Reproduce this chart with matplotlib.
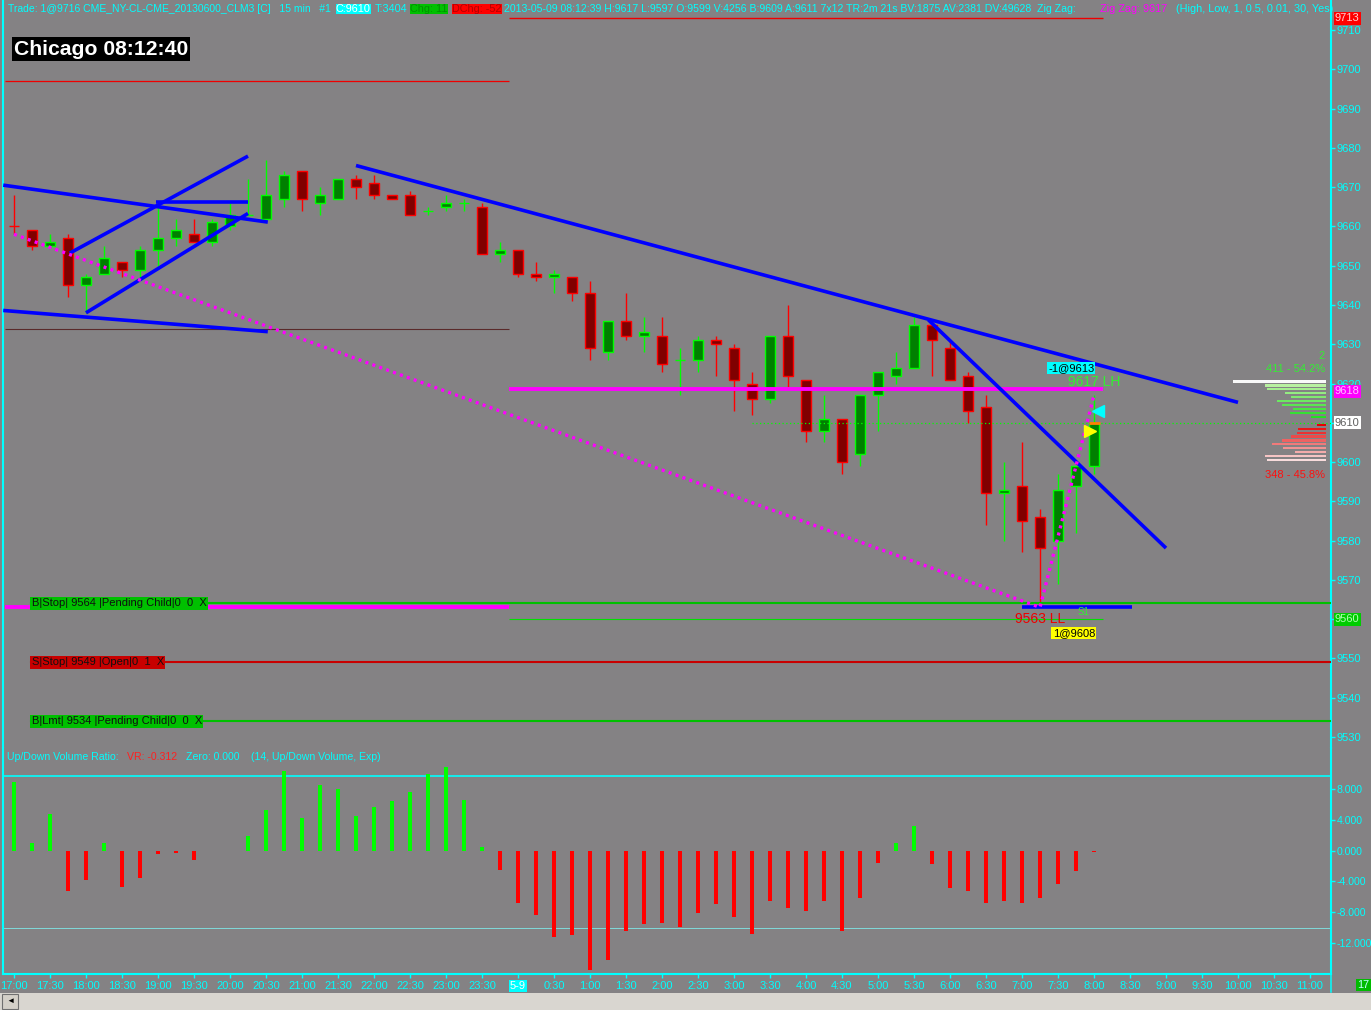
import numpy as np
import matplotlib.pyplot as plt
import matplotlib.colors as mc
from matplotlib.patches import Rectangle
from matplotlib.transforms import blended_transform_factory

plt.rcParams['font.family'] = ['Liberation Sans', 'DejaVu Sans']

BG = "#848284"
CYAN = "#00ffff"
UP_FILL, UP_EDGE = "#008000", "#00ff00"
DN_FILL, DN_EDGE = "#800000", "#ff0000"

# CL 06-13, 15 min bars from 17:00 (5/8) to 08:00 (5/9)
opens = [9660, 9659, 9655, 9657, 9645, 9648, 9651, 9649, 9654, 9657,
         9658, 9656, 9660, 9663, 9662, 9667, 9674, 9666, 9667, 9672,
         9671, 9668, 9668, 9664, 9665, 9666, 9665, 9653, 9654, 9648,
         9647, 9647, 9643, 9628, 9636, 9632, 9632, 9626, 9626, 9631,
         9629, 9620, 9616, 9632, 9621, 9608, 9611, 9602, 9617, 9622,
         9624, 9635, 9629, 9622, 9614, 9592, 9594, 9586, 9580, 9594, 9599]
highs = [9668, 9659, 9658, 9658, 9648, 9655, 9651, 9655, 9665, 9662,
         9662, 9662, 9666, 9672, 9677, 9674, 9674, 9670, 9672, 9673,
         9673, 9668, 9669, 9665, 9668, 9667, 9666, 9656, 9654, 9651,
         9649, 9647, 9646, 9636, 9643, 9637, 9637, 9629, 9632, 9632,
         9630, 9623, 9632, 9640, 9621, 9617, 9611, 9617, 9623, 9628,
         9637, 9636, 9631, 9623, 9617, 9600, 9605, 9588, 9597, 9599, 9617]
lows = [9658, 9654, 9655, 9642, 9638, 9648, 9647, 9647, 9650, 9655,
        9656, 9655, 9659, 9663, 9662, 9665, 9664, 9663, 9667, 9667,
        9667, 9667, 9663, 9663, 9664, 9664, 9653, 9651, 9647, 9646,
        9643, 9641, 9626, 9626, 9631, 9628, 9623, 9617, 9623, 9622,
        9613, 9612, 9615, 9619, 9605, 9605, 9597, 9599, 9608, 9620,
        9624, 9622, 9621, 9610, 9584, 9580, 9577, 9563, 9569, 9582, 9597]
closes = [9660, 9655, 9656, 9645, 9647, 9652, 9649, 9654, 9657, 9659,
          9656, 9661, 9663, 9663, 9668, 9673, 9667, 9668, 9672, 9670,
          9668, 9667, 9663, 9664, 9666, 9666, 9653, 9654, 9648, 9647,
          9648, 9643, 9629, 9636, 9632, 9633, 9625, 9626, 9631, 9630,
          9621, 9616, 9632, 9622, 9608, 9611, 9600, 9617, 9623, 9624,
          9635, 9631, 9621, 9613, 9592, 9593, 9585, 9578, 9593, 9599, 9610]

# Up/Down Volume Ratio (14, Exp)
vol_ratio = [8.9, 1.0, 4.8, -5.3, -3.8, 1.0, -4.7, -3.5, -0.5, -0.35,
             -1.2, 0.0, -0.1, 1.9, 5.3, 10.3, 4.2, 8.5, 8.0, 4.5,
             5.7, 6.5, 7.6, 10.0, 10.9, 6.6, 0.4, -2.5, -6.8, -8.4,
             -11.2, -11.0, -15.5, -14.2, -10.5, -9.6, -9.4, -9.9, -8.05, -7.0,
             -8.6, -10.9, -6.5, -7.5, -7.8, -6.6, -10.4, -6.1, -1.6, 1.0,
             3.2, -1.7, -4.8, -5.3, -6.8, -6.6, -6.8, -6.1, -4.3, -2.7, -0.2]

time_labels = ["17:00", "17:30", "18:00", "18:30", "19:00", "19:30", "20:00",
               "20:30", "21:00", "21:30", "22:00", "22:30", "23:00", "23:30",
               "5-9", "0:30", "1:00", "1:30", "2:00", "2:30", "3:00", "3:30",
               "4:00", "4:30", "5:00", "5:30", "6:00", "6:30", "7:00", "7:30",
               "8:00", "8:30", "9:00", "9:30", "10:00", "10:30", "11:00"]

price_ticks = list(range(9530, 9711, 10))
vr_ticks = [8, 4, 0, -4, -8, -12]
vr_tick_labels = ["8.000", "4.000", "0.000", "-4.000", "-8.000", "-12.000"]

# zig zag swing points (bar, price)
zigzag_bars = [0, 57, 60]
zigzag_prices = [9658, 9563, 9617]

# hand drawn trend lines (bar0, price0, bar1, price1)
trend_lines = [(-0.6, 9670.5, 14.1, 9661.1),
               (-0.6, 9638.6, 14.1, 9633.2),
               (3.1, 9653.2, 13.0, 9677.9),
               (4.0, 9638.0, 13.0, 9663.3),
               (7.9, 9666.1, 13.0, 9666.1),
               (19.0, 9675.5, 68.0, 9615.2),
               (50.8, 9636.2, 64.0, 9578.1),
               (56.0, 9563.0, 62.1, 9563.0)]

# session boundary (bar units) and levels
prev_start, sess_start, sess_end = -0.5, 27.5, 60.5
prev_high, prev_mid, prev_zz = 9697, 9634, 9563
sess_high, sess_zz, sess_pivot = 9713, 9618.5, 9560
last_price = 9610

orders = [("B|Stop| 9564 |Pending Child|0  0  X", 9564),
          ("S|Stop| 9549 |Open|0  1  X", 9549),
          ("B|Lmt| 9534 |Pending Child|0  0  X", 9534)]

# bid/ask volume profile of the last bar
prof_up_prices = [9620, 9619, 9618, 9617, 9616, 9615, 9614, 9613, 9612, 9611]
prof_up_vol = [82, 54, 52, 36, 31, 43, 39, 29, 32, 13]
prof_dn_prices = [9609, 9608, 9607, 9606, 9605, 9604, 9603, 9602, 9601, 9600]
prof_dn_vol = [8, 25, 26, 31, 39, 48, 38, 27, 54, 52]

W, H = 1371, 1010
fig = plt.figure(figsize=(W / 100, H / 100), dpi=100, facecolor=BG)


def box(x0, y0, x1, y1):
    return [x0 / W, 1 - y1 / H, (x1 - x0) / W, (y1 - y0) / H]


ax = fig.add_axes(box(3, 0, 1331, 748), facecolor=BG)
axv = fig.add_axes(box(3, 748, 1331, 974), facecolor=BG)
for a in (ax, axv):
    a.set_xlim(-11 / 18, 1317 / 18)
    for s in a.spines.values():
        s.set_color(CYAN)
        s.set_linewidth(1.5)
ax.spines['top'].set_visible(False)
ax.spines['bottom'].set_visible(False)
axv.spines['top'].set_visible(False)
ax.set_ylim(9527.2, 9717.64)
axv.set_ylim(-16.03, 13.32)

# candles
for i in range(len(opens)):
    o, h, l, c = opens[i], highs[i], lows[i], closes[i]
    up = c > o if c != o else (i > 0 and c >= closes[i - 1])
    edge = UP_EDGE if up else DN_EDGE
    fill = UP_FILL if up else DN_FILL
    ax.vlines(i, l, h, color=edge, lw=1.0, zorder=3)
    if c == o:
        ax.hlines(o, i - 0.29, i + 0.29, color=edge, lw=1.0, zorder=4)
    else:
        ax.bar(i, abs(c - o), bottom=min(o, c), width=0.54, color=fill,
               edgecolor=edge, lw=1.0, zorder=4)

# levels
ax.hlines(prev_high, prev_start, sess_start, color="#ee0000", lw=0.9, zorder=2)
ax.hlines(prev_mid, prev_start, sess_start, color="#5a2a2a", lw=0.8, zorder=2)
ax.hlines(prev_zz, prev_start, sess_start, color="#ff00ff", lw=2.8, zorder=5)
ax.hlines(sess_high, sess_start, sess_end, color="#ee0000", lw=1.0, zorder=2)
ax.hlines(sess_zz, sess_start, sess_end, color="#ff00ff", lw=2.8, zorder=5)
ax.hlines(sess_pivot, sess_start, sess_end, color="#00e000", lw=0.8, zorder=2)
ax.hlines(last_price, 41, 73.2, color="#00ff00", lw=0.9, linestyles=(0, (1, 2)), zorder=5)

for b0, p0, b1, p1 in trend_lines:
    ax.plot([b0, b1], [p0, p1], color="#0000ff", lw=2.6, zorder=6, solid_capstyle='butt')

ax.plot(zigzag_bars, zigzag_prices, color="#ff00ff", lw=2.4,
        linestyle=(0, (0.9, 1.3)), zorder=6)

# working orders
tr = blended_transform_factory(ax.transAxes, ax.transData)
for label, price in orders:
    col = "#00c000" if label.startswith("B") else "#c80000"
    ax.plot([28 / 1328, 1.0], [price, price], color=col, lw=1.5, transform=tr, zorder=5)
    ax.text(28.5 / 1328, price, label, transform=tr, fontsize=8, color="#101010",
            va='center', ha='left', zorder=8,
            bbox=dict(facecolor=col, edgecolor='none', pad=1.2))

# fills and markers on the last bar
ax.plot(60.2, 9613, marker='<', color=CYAN, ms=9, zorder=7)
ax.plot(59.8, 9608, marker='>', color='yellow', ms=9, zorder=7)
ax.hlines(closes[-1], 59.7, 60.35, color="#ff8000", lw=2, zorder=7)

ax.text(57.45, 9624.0, "-1@9613", fontsize=8, color='black', va='center', zorder=8,
        bbox=dict(facecolor=CYAN, edgecolor='none', pad=0.8))
ax.text(58.55, 9620.4, "9617 LH", fontsize=10, color="#33ee33", va='center', zorder=8)
ax.text(55.6, 9560.0, "9563 LL", fontsize=10, color="#ee0000", va='center', zorder=8)
ax.text(59.1, 9561.8, "S1", fontsize=7, color="#33ee33", va='center', zorder=8)
ax.text(57.7, 9556.4, "1@9608", fontsize=8, color='black', va='center', zorder=8,
        bbox=dict(facecolor='yellow', edgecolor='none', pad=0.8))
ax.text(72.83, 9627.0, "2", fontsize=8, color="#33ee33", ha='right', va='center')
ax.text(72.83, 9623.7, "411 - 54.2%", fontsize=8, color="#33ee33", ha='right', va='center')
ax.text(72.83, 9596.7, "348 - 45.8%", fontsize=8, color="#ff1010", ha='right', va='center')

# price axis
ax.tick_params(axis='x', bottom=False, labelbottom=False)
ax.yaxis.tick_right()
ax.set_yticks(price_ticks)
ax.tick_params(axis='y', colors=CYAN, labelsize=8, length=3, width=1, pad=1)
for price, fc, tc in [(9713, "#ff0000", "#ffd0d0"), (9618, "#ff00ff", "#ffc0ff"),
                      (9610, "white", "#606060"), (9560, "#00cc00", "#b0ffb0")]:
    ax.text(1.003, price, str(price), transform=tr, fontsize=8, color=tc,
            va='center', ha='left', clip_on=False, zorder=9,
            bbox=dict(facecolor=fc, edgecolor='none', pad=1))

# volume profile
axp = fig.add_axes(box(1196, 0, 1326, 748))
axp.set_ylim(ax.get_ylim())
axp.set_xlim(130 * 0.885, 0)
axp.axis('off')
white = np.array(mc.to_rgb("#f8f8f8"))
pale_green = np.array(mc.to_rgb("#b8f0a0"))
green = np.array(mc.to_rgb("#22e022"))
red = np.array(mc.to_rgb("#e80000"))
pale_red = np.array(mc.to_rgb("#f8dcdc"))
n = len(prof_up_prices)
up_cols = [tuple(white)] + [tuple(pale_green + (green - pale_green) * (j - 1) / (n - 2))
                            for j in range(1, n)]
dn_cols = [tuple(red + (pale_red - red) * j / (n - 1)) for j in range(n)]
axp.barh(np.array(prof_up_prices) + 0.5, prof_up_vol, height=0.55, color=up_cols)
axp.barh(np.array(prof_dn_prices) + 0.5, prof_dn_vol, height=0.55, color=dn_cols)

# volume ratio panel
axv.bar(range(len(vol_ratio)), vol_ratio, width=0.17,
        color=["#00ff00" if v > 0 else "#ff0000" for v in vol_ratio], zorder=3)
axv.axhline(9.7, color=CYAN, lw=1.2, zorder=2)
axv.axhline(-10, color="#7fe8e8", lw=0.6, zorder=2)
axv.yaxis.tick_right()
axv.set_yticks(vr_ticks)
axv.set_yticklabels(vr_tick_labels)
axv.tick_params(axis='y', colors=CYAN, labelsize=7.6, length=3, width=1, pad=1)
axv.set_xticks(range(0, 73, 2))
axv.set_xticklabels(time_labels)
axv.tick_params(axis='x', colors=CYAN, labelsize=8, length=3, width=1, pad=2)
lab = axv.get_xticklabels()[time_labels.index("5-9")]
lab.set_color('white')
lab.set_bbox(dict(facecolor=CYAN, edgecolor='none', pad=1))

# overlay for window decorations
ov = fig.add_axes([0, 0, 1, 1], zorder=20)
ov.set_xlim(0, W)
ov.set_ylim(H, 0)
ov.axis('off')
ov.patch.set_alpha(0)

fs = 7.8
ov.text(8, 9, "Trade: 1@9716 CME_NY-CL-CME_20130600_CLM3 [C]   15 min   #1",
        color=CYAN, fontsize=7.5, va='center')
ov.text(336, 9, "C:9610", color='white', fontsize=fs, va='center',
        bbox=dict(facecolor=CYAN, edgecolor='none', pad=0.3))
ov.text(375, 9, "T:3404", color=CYAN, fontsize=fs, va='center')
ov.text(410, 9, "Chg: 11", color="#009000", fontsize=fs, va='center',
        bbox=dict(facecolor="#00c000", edgecolor='none', pad=0.3))
ov.text(452, 9, "DChg: -52", color="#b00000", fontsize=fs, va='center',
        bbox=dict(facecolor="#ff0000", edgecolor='none', pad=0.3))
ov.text(504, 9, "2013-05-09 08:12:39 H:9617 L:9597 O:9599 V:4256 B:9609 A:9611 7x12 "
        "TR:2m 21s BV:1875 AV:2381 DV:49628  Zig Zag:", color=CYAN, fontsize=7.6,
        va='center')
ov.text(1100, 9, "Zig Zag: 9617", color="#ff00ff", fontsize=fs, va='center')
ov.text(1176, 9, "(High, Low, 1, 0.5, 0.01, 30, Yes)", color=CYAN, fontsize=fs,
        va='center', clip_on=True, clip_box=ax.bbox)

ov.add_patch(Rectangle((12, 37), 178, 24, facecolor='black', edgecolor='none'))
ov.text(14, 49.5, "Chicago 08:12:40", color='white', fontsize=15.2,
        fontweight='bold', va='center')

ov.text(7, 757, "Up/Down Volume Ratio:", color=CYAN, fontsize=7.6, va='center')
ov.text(127, 757, "VR: -0.312", color="#ff2020", fontsize=7.6, va='center')
ov.text(186, 757, "Zero: 0.000", color=CYAN, fontsize=7.6, va='center')
ov.text(251, 757, "(14, Up/Down Volume, Exp)", color=CYAN, fontsize=7.6, va='center')

ov.plot([1331, 1331], [974, 992], color=CYAN, lw=1.1)
ov.text(1357, 985, "17", color="#c0ffff", fontsize=fs, va='center',
        bbox=dict(facecolor="#00bb00", edgecolor='none', pad=1))
ov.add_patch(Rectangle((0, 993), W, 17, facecolor="#d9d6d0", edgecolor='none'))
ov.add_patch(Rectangle((2, 994), 16, 15, facecolor="#d4d0c8", edgecolor="#707070", lw=0.8))
ov.text(10, 1001.5, "\u25c4", color='black', fontsize=6, ha='center', va='center')

fig.savefig("out.png", dpi=100, facecolor=BG)
